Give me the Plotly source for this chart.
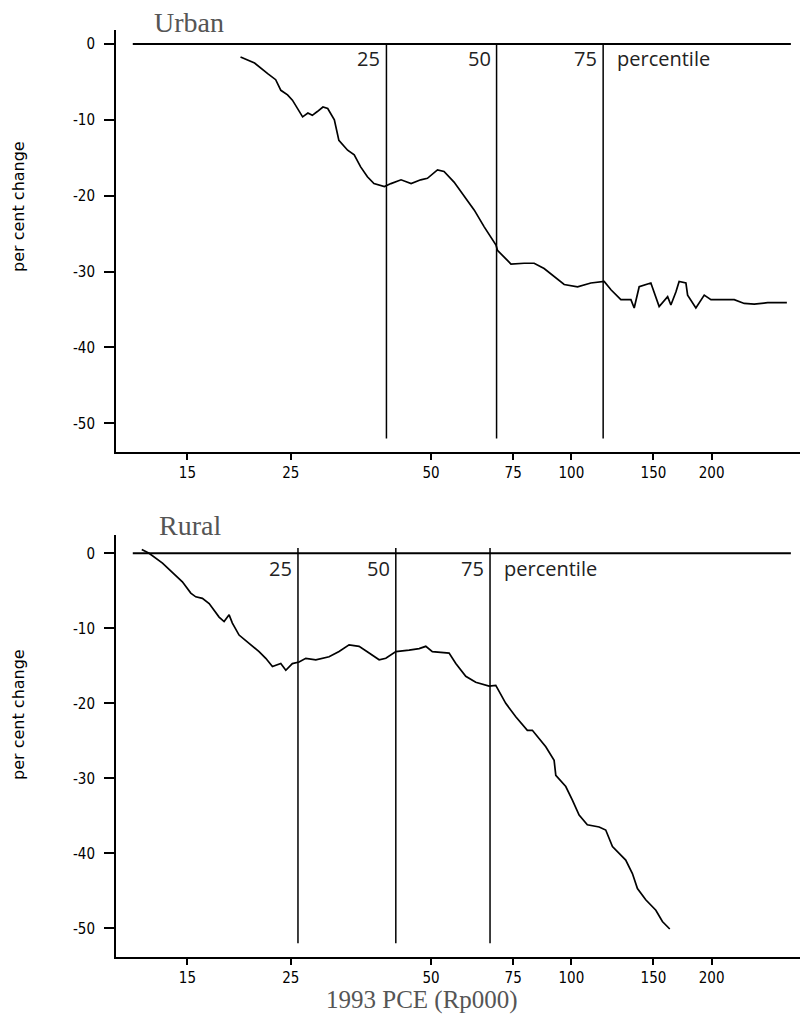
import math
import plotly.graph_objects as go

# ---------------- data ----------------
urban_pce = [19.5, 20.9, 22.3, 23.2, 23.8, 24.6, 25.2, 25.9, 26.5, 27.2, 27.8, 28.5, 29.3, 30.0,
             31.0, 31.7, 33.1, 34.2, 35.3, 36.5, 37.7, 39.7, 41.0, 43.1, 45.3, 47.5, 49.1, 51.6,
             53.3, 56.0, 58.9, 61.9, 65.0, 68.9, 69.4, 74.2, 79.2, 83.2, 87.4, 91.9, 96.5, 103.1,
             110.1, 117.6, 121.6, 127.7, 134.2, 136.4, 139.8, 148.1, 154.3, 160.9, 163.5, 167.6,
             170.3, 176.1, 177.6, 185.0, 192.8, 199.3, 209.4, 223.6, 234.9, 246.8, 263.7, 290.0]
urban_change = [-1.7, -2.5, -3.9, -4.7, -6.1, -6.7, -7.4, -8.7, -9.6, -9.1, -9.4, -8.9, -8.3, -8.5,
                -10.0, -12.7, -14.0, -14.6, -16.2, -17.5, -18.4, -18.8, -18.4, -17.9, -18.4, -17.9,
                -17.7, -16.6, -16.8, -18.2, -20.1, -21.9, -24.1, -26.5, -27.2, -29.0, -28.9, -28.9,
                -29.6, -30.7, -31.7, -32.0, -31.5, -31.3, -32.4, -33.7, -33.7, -34.8, -32.0, -31.5,
                -34.6, -33.3, -34.4, -32.7, -31.3, -31.5, -33.1, -34.8, -33.1, -33.7, -33.7, -33.7,
                -34.2, -34.3, -34.1, -34.1]

rural_pce = [11.97, 12.41, 13.26, 13.92, 14.63, 15.25, 15.63, 16.15, 16.70, 17.54, 17.98, 18.43,
             18.73, 19.36, 20.34, 21.37, 22.09, 22.83, 23.79, 24.39, 25.19, 26.04, 26.92, 28.29,
             30.20, 31.73, 33.34, 35.03, 36.81, 38.68, 39.98, 42.01, 44.85, 47.13, 48.71, 50.31,
             54.65, 56.49, 59.34, 62.34, 66.59, 68.83, 72.30, 75.97, 80.45, 82.46, 88.12, 91.82,
             92.59, 97.27, 100.5, 103.9, 108.2, 114.7, 118.5, 122.5, 130.8, 135.2, 138.6, 144.4,
             151.8, 156.8, 162.6]
rural_change = [0.5, 0.0, -1.3, -2.5, -3.8, -5.3, -5.8, -6.0, -6.7, -8.5, -9.1, -8.2,
                -9.3, -10.9, -12.0, -13.1, -14.0, -15.1, -14.7, -15.6, -14.7, -14.5, -14.0, -14.2,
                -13.8, -13.1, -12.2, -12.4, -13.3, -14.2, -14.0, -13.1, -12.9, -12.7, -12.4, -13.1,
                -13.3, -14.7, -16.4, -17.2, -17.7, -17.6, -20.0, -21.8, -23.6, -23.6, -25.8, -27.6,
                -29.6, -31.1, -32.9, -34.9, -36.2, -36.5, -36.9, -39.1, -40.9, -42.7, -44.7, -46.2,
                -47.6, -49.1, -50.1]

percentile_labels = ["25", "50", "75"]
urban_percentiles = [40.1, 69.1, 117.0]
rural_percentiles = [25.9, 42.0, 66.9]

zero_line_pce = [11.45, 295.8]

x_tickvals = [15, 25, 50, 75, 100, 150, 200]
x_ticktext = ["15", "25", "50", "75", "100", "150", "200"]
y_tickvals = [0, -10, -20, -30, -40, -50]
y_ticktext = ["0", "-10", "-20", "-30", "-40", "-50"]

# ---------------- figure ----------------
fig = go.Figure()

panels = [
    ("x", "y", urban_pce, urban_change, urban_percentiles, 0.0, -1.85),
    ("x2", "y2", rural_pce, rural_change, rural_percentiles, 0.7, -2.0),
]

lab_font = dict(family="Open Sans", size=20, color="#222")

for xa, ya, px, py, pcts, vtop, lab_y in panels:
    # zero reference line
    fig.add_trace(go.Scatter(x=zero_line_pce, y=[0, 0], mode="lines",
                             line=dict(color="black", width=2), xaxis=xa, yaxis=ya,
                             showlegend=False, hoverinfo="skip"))
    # percentile lines
    for p in pcts:
        fig.add_trace(go.Scatter(x=[p, p], y=[vtop, -52.0], mode="lines",
                                 line=dict(color="black", width=1.5), xaxis=xa, yaxis=ya,
                                 showlegend=False, hoverinfo="skip"))
    # curve
    fig.add_trace(go.Scatter(x=px, y=py, mode="lines", line=dict(color="black", width=1.7),
                             xaxis=xa, yaxis=ya, showlegend=False))
    # percentile labels (annotation x on a log axis is given in log10 units)
    for p, lab in zip(pcts, percentile_labels):
        fig.add_annotation(x=math.log10(p), y=lab_y, xref=xa, yref=ya, text=lab,
                           showarrow=False, xanchor="right", yanchor="middle", xshift=-4,
                           font=lab_font)
    fig.add_annotation(x=math.log10(pcts[-1]), y=lab_y, xref=xa, yref=ya, text="percentile",
                       showarrow=False, xanchor="left", yanchor="middle", xshift=12,
                       font=lab_font)

xrange = [1.0228, 2.4906]
tick_font = dict(family="Liberation Sans Narrow, DejaVu Sans Condensed, Open Sans, sans-serif",
                 size=15, color="black")

xaxis_common = dict(type="log", range=xrange, tickmode="array", tickvals=x_tickvals,
                    ticktext=x_ticktext, showgrid=False, zeroline=False, showline=True,
                    linecolor="black", linewidth=2, ticks="outside", ticklen=6, tickwidth=1.5,
                    tickcolor="black", tickfont=tick_font)
yaxis_common = dict(tickmode="array", tickvals=y_tickvals, ticktext=y_ticktext,
                    showgrid=False, zeroline=False, showline=True, linecolor="black",
                    linewidth=2, ticks="outside", ticklen=10, tickwidth=1.5, tickcolor="black",
                    tickfont=tick_font, ticklabelstandoff=6)

fig.update_layout(
    width=801, height=1020,
    margin=dict(l=116, r=1, t=30, b=63),
    paper_bgcolor="white", plot_bgcolor="white",
    xaxis=dict(xaxis_common, anchor="y", domain=[0, 1]),
    yaxis=dict(yaxis_common, anchor="x", domain=[0.5448, 1.0], range=[-53.78, 1.85]),
    xaxis2=dict(xaxis_common, anchor="y2", domain=[0, 1]),
    yaxis2=dict(yaxis_common, anchor="x2", domain=[0.0, 0.4552], range=[-53.83, 2.44]),
)

serif = "Liberation Serif, Times New Roman, serif"
fig.add_annotation(x=0.0526, y=1.008, xref="paper", yref="paper", text="Urban", showarrow=False,
                   xanchor="left", yanchor="middle", font=dict(family=serif, size=28, color="#555"))
fig.add_annotation(x=0.0599, y=0.466, xref="paper", yref="paper", text="Rural", showarrow=False,
                   xanchor="left", yanchor="middle", font=dict(family=serif, size=28, color="#555"))
fig.add_annotation(x=0.4474, y=-0.0465, xref="paper", yref="paper", text="1993 PCE (Rp000)",
                   showarrow=False, xanchor="center", yanchor="middle",
                   font=dict(family=serif, size=25, color="#555"))
for yc in [0.8091, 0.2611]:
    fig.add_annotation(x=-0.1418, y=yc, xref="paper", yref="paper", text="per cent change",
                       showarrow=False, textangle=-90, xanchor="center", yanchor="middle",
                       font=dict(family="DejaVu Sans", size=16, color="black"))

fig.write_html("out.html")
